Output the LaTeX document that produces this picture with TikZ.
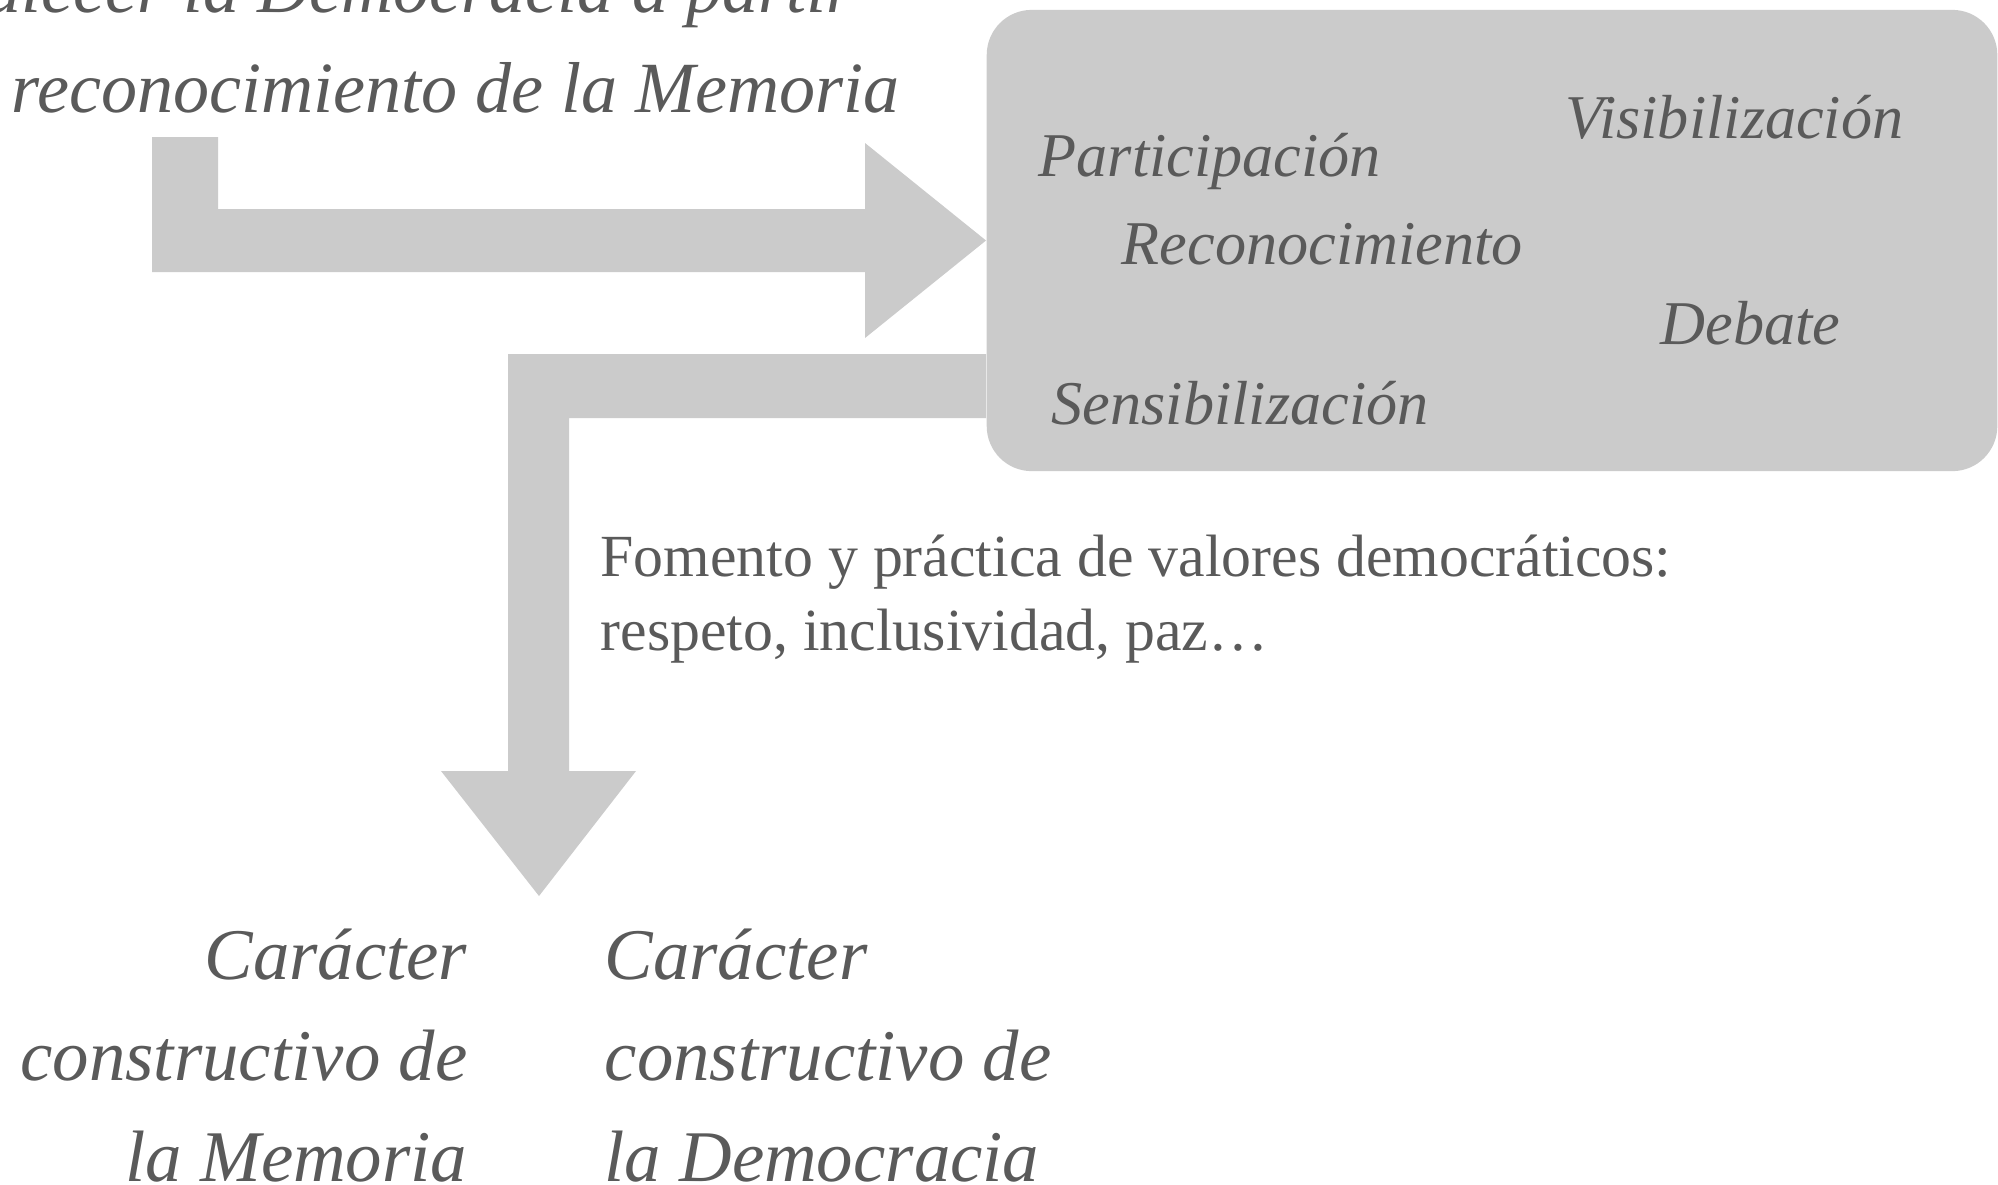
\documentclass[tikz,border=0pt]{standalone}
\usepackage{fontspec}
\setmainfont{Liberation Serif}
\usepackage{xcolor}
\usepackage{tikz}
\usetikzlibrary{positioning}
\usetikzlibrary{calc}
\definecolor{gris}{HTML}{CBCBCB}
\definecolor{tinta}{HTML}{5A5A5A}
\tikzstyle{flecha}=[fill=gris]
\tikzstyle{caja}=[rectangle,fill=gris,rounded corners=0.45cm,minimum width=10.1cm,minimum height=4.61cm,inner sep=0pt]
\tikzstyle{palabra}=[text=tinta,inner sep=0pt,anchor=base west,font=\fontsize{17.7pt}{21pt}\selectfont\itshape]
\tikzstyle{titulo}=[text=tinta,inner sep=0pt,font=\fontsize{20.5pt}{28.5pt}\selectfont\itshape]
\tikzstyle{pie}=[text=tinta,inner sep=0pt,font=\fontsize{20.7pt}{28.7pt}\selectfont\itshape]
\tikzstyle{lema}=[text=tinta,inner sep=0pt,align=left,anchor=base west,font=\fontsize{17pt}{21pt}\selectfont]

\begin{document}
\begin{tikzpicture}[x=0.01cm, y=-0.01cm]

   \useasboundingbox (0,0) rectangle (1998,1184);
   \clip (0,0) rectangle (1998,1184);

   % box with the five words
   \node[caja] (ejes) at (1492,240.5) {};

   % arrow from the title into the box
   \fill[flecha] (ejes.west) -- (865,338) -- (865,272) -- (152,272) -- (152,137)
      -- (218,137) -- (218,209) -- (865,209) -- (865,143) -- cycle;

   % elbow arrow from the box down to the two results
   \fill[flecha] (ejes.west |- 0,354) -- (508,354) -- (508,771) -- (441,771) -- (539,896)
      -- (636,771) -- (569,771) -- (569,418) -- (ejes.west |- 0,418) -- cycle;

   \node[titulo, anchor=base east] (titulo1) at (855,12) {Fortalecer la Democracia a partir};
   \node[titulo, anchor=base west] (titulo2) at (11,112) {reconocimiento de la Memoria};

  \foreach \x/\y/\name/\label in { 1565/138/visib/Visibilización, 1038/176/partic/Participación,
          1121/264/recon/Reconocimiento, 1660/344/debate/Debate, 1051/424/sensib/Sensibilización}
          \node[palabra] (\name) at (\x, \y) {\label};

   \node[lema] (valores) at (600,650) {Fomento y práctica de valores democráticos:\\respeto, inclusividad, paz\dots};

   \node[pie, align=right, anchor=base east] (memoria) at (468,1181) {Carácter\\constructivo de\\la Memoria};
   \node[pie, align=left, anchor=base west] (democracia) at (604,1181) {Carácter\\constructivo de\\la Democracia};

\end{tikzpicture}
\end{document}
